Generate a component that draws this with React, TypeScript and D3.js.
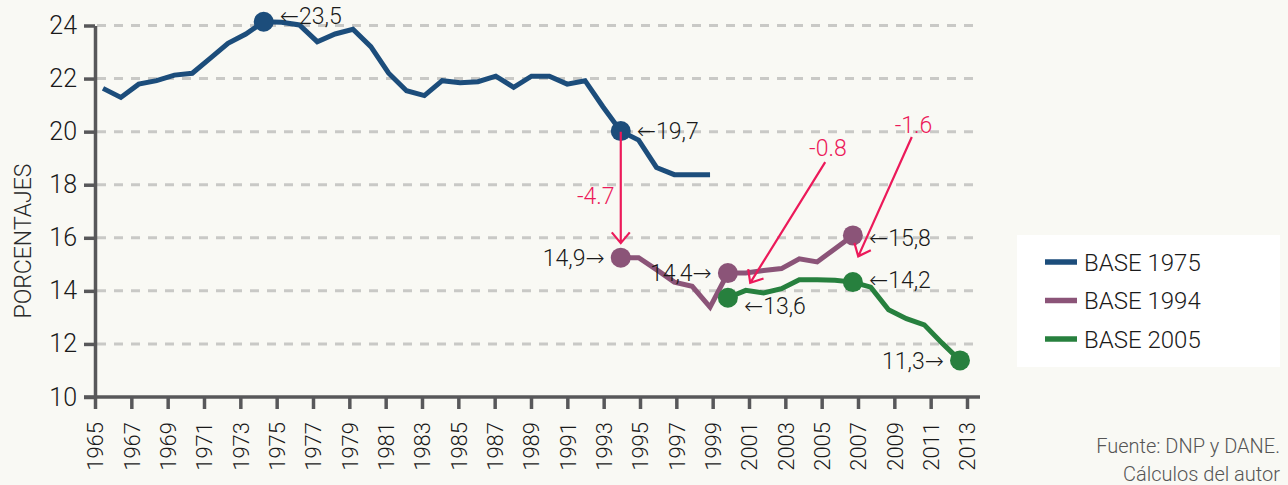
import { useEffect, useRef } from "react";
import * as d3 from "d3";

// Series values (percent), one value per year starting at the series' first year
const base1975Start = 1965;
const base1975 = [
  21.63, 21.29, 21.79, 21.92, 22.13, 22.2, 22.76, 23.33, 23.68, 24.14, 24.12,
  24.02, 23.39, 23.68, 23.86, 23.2, 22.2, 21.54, 21.36, 21.92, 21.84, 21.88,
  22.09, 21.67, 22.09, 22.09, 21.79, 21.92, 20.94, 20.02, 19.68, 18.65, 18.38,
  18.38, 18.38,
];

const base1994Start = 1994;
const base1994 = [
  15.25, 15.25, 14.8, 14.33, 14.17, 13.39, 14.67, 14.67, 14.77, 14.84, 15.21,
  15.09, 15.59, 16.09,
];

const base2005Start = 2000;
const base2005 = [
  13.74, 14.02, 13.92, 14.08, 14.42, 14.42, 14.4, 14.33, 14.14, 13.29, 12.95,
  12.72, 12.03, 11.38,
];

const seriesNames = ["BASE 1975", "BASE 1994", "BASE 2005"];
const seriesColors = ["#1c4d7b", "#8b5478", "#27803e"];

const xTickLabels = [
  "1965", "1967", "1969", "1971", "1973", "1975", "1977", "1979", "1981",
  "1983", "1985", "1987", "1989", "1991", "1993", "1995", "1997", "1999",
  "2001", "2003", "2005", "2007", "2009", "2011", "2013",
];
const yTickValues = [10, 12, 14, 16, 18, 20, 22, 24];

// Highlighted points: series index, year, label
const highlightSeries = [0, 0, 1, 1, 1, 2, 2, 2];
const highlightYears = [1974, 1994, 1994, 2000, 2007, 2000, 2007, 2013];
const highlightLabels = ["←23,5", "←19,7", "14,9→", "14,4→", "←15,8", "←13,6", "←14,2", "11,3→"];

// Change annotations: arrow from -> to (year, value), label position
const deltaLabels = ["-4.7", "-0.8", "-1.6"];
const deltaFrom = [[1994, 20.0], [2005.45, 18.85], [2010.3, 19.8]];
const deltaTo = [[1994, 15.8], [2001.25, 14.3], [2007.3, 15.3]];
const deltaText = [[1992.6, 17.6], [2005.6, 19.38], [2010.4, 20.27]];

const FONT = "Roboto, 'DejaVu Sans', sans-serif";
const RED = "#ec1a5a";
const INK = "#1a1a1a";

export default function App() {
  const svgRef = useRef<SVGSVGElement>(null);

  useEffect(() => {
    if (!svgRef.current) return;
    const svg = d3.select(svgRef.current);
    svg.selectAll("*").remove();

    const width = 1288;
    const height = 485;
    svg.attr("width", width).attr("height", height);

    svg.append("rect").attr("width", width).attr("height", height).attr("fill", "#f9f9f4");

    // axis scale (tick positions) and data scale (points sit slightly inside)
    const xAxisScale = d3.scaleLinear().domain([1965, 2013]).range([95, 967]);
    const xScale = d3.scaleLinear().domain([1965, 2013]).range([103, 960]);
    const yScale = d3.scaleLinear().domain([10, 24]).range([397, 25.5]);

    // grid
    svg
      .append("g")
      .selectAll("line")
      .data(yTickValues.filter((v) => v > 10))
      .join("line")
      .attr("x1", 97)
      .attr("x2", 977)
      .attr("y1", (d) => yScale(d))
      .attr("y2", (d) => yScale(d))
      .attr("stroke", "#c9c9c6")
      .attr("stroke-width", 3)
      .attr("stroke-dasharray", "9,8");

    // Y axis
    const yAxis = svg
      .append("g")
      .attr("transform", "translate(95,0)")
      .call(d3.axisLeft(yScale).tickValues(yTickValues).tickSize(11).tickPadding(7).tickSizeOuter(0));
    yAxis.select(".domain").attr("stroke", "#58585a").attr("stroke-width", 3.5);
    yAxis.selectAll(".tick line").attr("stroke", "#58585a").attr("stroke-width", 3.5);
    yAxis
      .selectAll(".tick text")
      .attr("fill", INK)
      .style("font-family", FONT)
      .style("font-weight", "300")
      .style("font-size", "25px");

    // X axis
    const xAxis = svg
      .append("g")
      .attr("transform", `translate(0,${yScale(10)})`)
      .call(
        d3
          .axisBottom(xAxisScale)
          .tickValues(xTickLabels.map(Number))
          .tickFormat((d) => String(d))
          .tickSize(12)
          .tickSizeOuter(0)
      );
    xAxis.select(".domain").attr("d", `M84,0H980`).attr("stroke", "#58585a").attr("stroke-width", 3.5);
    xAxis.selectAll(".tick line").attr("stroke", "#58585a").attr("stroke-width", 3.5);
    xAxis
      .selectAll(".tick text")
      .attr("fill", INK)
      .style("font-family", FONT)
      .style("font-weight", "300")
      .style("font-size", "22px")
      .attr("transform", "rotate(-90)")
      .attr("text-anchor", "end")
      .attr("x", -25)
      .attr("y", 0)
      .attr("dy", "0.36em");

    // Y axis title
    svg
      .append("text")
      .attr("transform", `translate(31,241) rotate(-90)`)
      .attr("text-anchor", "middle")
      .attr("fill", "#2a2a2a")
      .style("font-family", FONT)
      .style("font-weight", "300")
      .style("font-size", "23px")
      .text("PORCENTAJES");

    const allSeries = [
      { start: base1975Start, values: base1975 },
      { start: base1994Start, values: base1994 },
      { start: base2005Start, values: base2005 },
    ];

    allSeries.forEach((s, si) => {
      const l = d3
        .line<number>()
        .x((_, i) => xScale(s.start + i))
        .y((d) => yScale(d));
      svg
        .append("path")
        .datum(s.values)
        .attr("fill", "none")
        .attr("stroke", seriesColors[si])
        .attr("stroke-width", 5)
        .attr("stroke-linejoin", "miter")
        .attr("d", l);
    });

    // highlighted points with labels
    const labelDy = [-6, 0, 0, 0, 2, 8, -2, 0];
    highlightLabels.forEach((lab, i) => {
      const si = highlightSeries[i];
      const s = allSeries[si];
      const yr = highlightYears[i];
      const v = s.values[yr - s.start];
      const cx = xScale(yr);
      const cy = yScale(v);
      svg
        .append("circle")
        .attr("cx", cx)
        .attr("cy", cy)
        .attr("r", 10)
        .attr("fill", seriesColors[si]);
      const leftArrow = lab.startsWith("←");
      svg
        .append("text")
        .attr("x", leftArrow ? cx + 16 : cx - 16)
        .attr("y", cy + labelDy[i])
        .attr("dy", "0.36em")
        .attr("text-anchor", leftArrow ? "start" : "end")
        .attr("fill", INK)
        .style("font-family", FONT)
        .style("font-weight", "300")
        .style("font-size", "23px")
        .text(lab);
    });

    // delta arrows (drawn over the dots)
    const arrowG = svg.append("g");
    deltaLabels.forEach((lab, i) => {
      const x1 = xScale(deltaFrom[i][0]);
      const y1 = yScale(deltaFrom[i][1]);
      const x2 = xScale(deltaTo[i][0]);
      const y2 = yScale(deltaTo[i][1]);
      const ang = Math.atan2(y2 - y1, x2 - x1);
      const len = 14;
      const spread = (40 * Math.PI) / 180;
      const w1 = [x2 - len * Math.cos(ang - spread), y2 - len * Math.sin(ang - spread)];
      const w2 = [x2 - len * Math.cos(ang + spread), y2 - len * Math.sin(ang + spread)];
      arrowG
        .append("path")
        .attr("d", `M${x1},${y1}L${x2},${y2}M${w1[0]},${w1[1]}L${x2},${y2}L${w2[0]},${w2[1]}`)
        .attr("fill", "none")
        .attr("stroke", RED)
        .attr("stroke-width", 2.2);
      arrowG
        .append("text")
        .attr("x", xScale(deltaText[i][0]))
        .attr("y", yScale(deltaText[i][1]))
        .attr("dy", "0.36em")
        .attr("text-anchor", "middle")
        .attr("fill", RED)
        .style("font-family", FONT)
        .style("font-weight", "300")
        .style("font-size", "23px")
        .text(lab);
    });

    // legend
    const legend = svg.append("g");
    legend
      .append("rect")
      .attr("x", 1017)
      .attr("y", 235)
      .attr("width", 263)
      .attr("height", 132)
      .attr("fill", "#ffffff");
    seriesNames.forEach((name, i) => {
      const ly = 262 + i * 38.5;
      legend
        .append("line")
        .attr("x1", 1045)
        .attr("x2", 1077)
        .attr("y1", ly)
        .attr("y2", ly)
        .attr("stroke", seriesColors[i])
        .attr("stroke-width", 5.5);
      legend
        .append("text")
        .attr("x", 1084)
        .attr("y", ly)
        .attr("dy", "0.36em")
        .attr("fill", INK)
        .style("font-family", FONT)
        .style("font-weight", "300")
        .style("font-size", "24px")
        .text(name);
    });

    // source note
    const src = svg
      .append("text")
      .attr("text-anchor", "end")
      .attr("fill", "#555555")
      .style("font-family", FONT)
      .style("font-weight", "300")
      .style("font-size", "20px");
    src.append("tspan").attr("x", 1280).attr("y", 453).text("Fuente: DNP y DANE.");
    src.append("tspan").attr("x", 1280).attr("y", 481).text("Cálculos del autor");
  }, []);

  return (
    <div style={{ position: "absolute", left: 0, top: 0, width: 1288, height: 485 }}>
      <svg ref={svgRef} style={{ display: "block" }} />
    </div>
  );
}
